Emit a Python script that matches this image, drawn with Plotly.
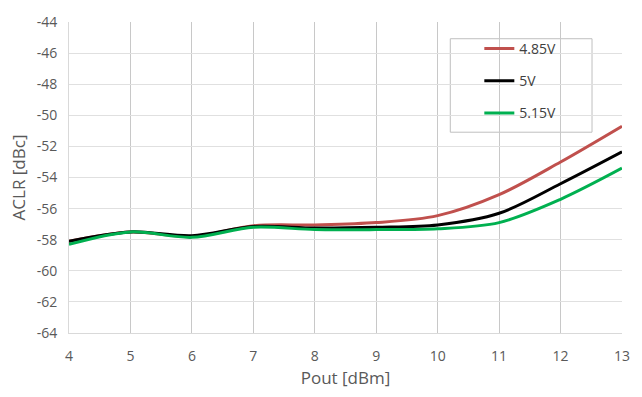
import plotly.graph_objects as go

pout = [4, 5, 6, 7, 8, 9, 10, 11, 12, 13]
aclr_485 = [-58.1, -57.5, -57.8, -57.1, -57.05, -56.9, -56.45, -55.1, -53.0, -50.7]
aclr_500 = [-58.1, -57.5, -57.75, -57.15, -57.25, -57.2, -57.05, -56.3, -54.4, -52.35]
aclr_515 = [-58.3, -57.5, -57.85, -57.2, -57.35, -57.35, -57.3, -56.9, -55.4, -53.4]

y_ticks = list(range(-64, -43, 2))
y_labels = ["%d" % v for v in y_ticks]

series = [
    ("4.85V", aclr_485, "#C0504D"),
    ("5V", aclr_500, "#000000"),
    ("5.15V", aclr_515, "#00B050"),
]

font_family = "Open Sans, Liberation Sans, sans-serif"
text_color = "#595959"

fig = go.Figure()
for name, vals, color in series:
    fig.add_trace(go.Scatter(
        x=pout, y=vals, name=name, mode="lines", legendgroup=name,
        line=dict(color=color, width=3, shape="spline", smoothing=0.9),
    ))

# legend frame
fig.add_shape(
    type="rect", xref="paper", yref="paper",
    x0=0.6895, x1=0.9458, y0=0.6456, y1=0.9462,
    line=dict(color="#BFBFBF", width=1), fillcolor="white", layer="between",
)

fig.update_layout(
    width=642, height=397,
    margin=dict(l=69, r=19, t=17, b=64),
    paper_bgcolor="white", plot_bgcolor="white",
    font=dict(family=font_family, size=14, color=text_color),
    showlegend=True,
    legend=dict(
        x=0.742, y=0.965, xanchor="left", yanchor="top",
        borderwidth=0, bgcolor="rgba(0,0,0,0)",
        font=dict(size=14, color="#404040"),
        tracegroupgap=11, itemwidth=30,
    ),
)
fig.update_xaxes(
    range=[4, 13], tickvals=pout, ticks="",
    showgrid=True, gridcolor="#C8C8C8", gridwidth=1,
    showline=True, linecolor="#D9D9D9", linewidth=1,
    zeroline=False, ticklabelstandoff=10,
    title=dict(text="Pout [dBm]", font=dict(size=17, color=text_color), standoff=8),
)
fig.update_yaxes(
    range=[-64, -44], tickvals=y_ticks, ticktext=y_labels, ticks="",
    showgrid=True, gridcolor="#E0E0E0", gridwidth=1,
    showline=True, linecolor="#D9D9D9", linewidth=1,
    zeroline=False, ticklabelstandoff=8,
    title=dict(text="ACLR [dBc]", font=dict(size=17, color=text_color), standoff=6),
)

fig.write_html("out.html")
